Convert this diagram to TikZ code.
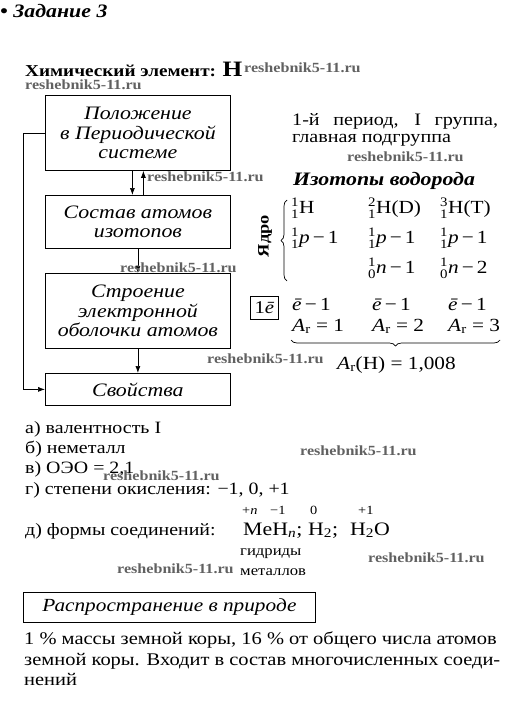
\documentclass[tikz,border=0pt]{standalone}
\usepackage{amsmath}
\usepackage{fontspec}
\setmainfont{Liberation Serif}[FakeStretch=1.15]
\usetikzlibrary{decorations.pathreplacing,arrows.meta}
\newcommand\iso[2]{\ensuremath{{}^{\text{#1}}_{\text{#2}}}}
\newcommand\Ar{\textit{A}\ensuremath{_{\text{r}}}}
\newcommand\mn{\,−\,}
\begin{document}
\begin{tikzpicture}[x=1pt,y=-1pt,
  box/.style={draw, line width=0.8pt, minimum width=185pt, inner sep=0pt, anchor=north west,
    font=\fontsize{19}{19.5}\selectfont\itshape, align=center},
  wm/.style={font=\fontsize{14}{14}\selectfont\bfseries, text=black!62, anchor=base west, inner sep=0pt},
  txt/.style={anchor=base west, inner sep=0pt, font=\fontsize{17.3}{20}\selectfont},
  big/.style={txt, font=\fontsize{18.5}{20}\selectfont},
  para/.style={txt, font=\fontsize{17.8}{20}\selectfont},
  arr/.style={-{Latex[length=7pt,width=5pt]}, line width=0.7pt}
]
\useasboundingbox (0,0) rectangle (505,728);
% title
\node[txt, font=\fontsize{19}{22}\selectfont\bfseries\itshape] (title) at (0,17) {• Задание 3};
\node[txt, font=\fontsize{16.7}{18}\selectfont\bfseries] (head) at (25,76) {Химический элемент: {\fontsize{22}{22}\selectfont H}};
% flow boxes
\node[box, minimum height=75pt] (b1) at (45,95) {Положение\\в Периодической\\системе};
\node[box, minimum height=53pt] (b2) at (45,195) {Состав атомов\\изотопов};
\node[box, minimum height=75pt] (b3) at (45,273) {Строение\\электронной\\оболочки атомов};
\node[box, minimum height=32pt] (b4) at (45,373) {Свойства};
\draw[arr] ([xshift=-5.5pt]b1.south) -- ([xshift=-5.5pt]b2.north);
\draw[arr] ([xshift=5.5pt]b2.north) -- ([xshift=5.5pt]b1.south);
\draw[arr] (b2.south) -- (b3.north);
\draw[arr] (b3.south) -- (b4.north);
\draw[arr] (b1.west) -- ++(-22,0) |- (b4.west);
% right side
\node[txt, font=\fontsize{17.5}{20}\selectfont] (per1) at (292,125) {\makebox[206pt][s]{1-й период, I группа,}};
\node[txt, font=\fontsize{17.5}{20}\selectfont] (per2) at (292,142) {главная подгруппа};
\node[txt, font=\fontsize{19}{20}\selectfont\bfseries\itshape] (isot) at (293,185) {Изотопы водорода};
\node[rotate=90, inner sep=0pt, font=\fontsize{16}{18}\selectfont\bfseries] (yadro) at (265,236) {Ядро};
\coordinate (brb) at (287,281);
\coordinate (brt) at (287,200);
\draw[decorate, decoration={brace, amplitude=6pt}, line width=0.7pt] (brb) -- (brt);
\node[big] (r1a) at (291,213) {\iso{1}{1}H};
\node[big] (r1b) at (368,213) {\iso{2}{1}H(D)};
\node[big] (r1c) at (440,213) {\iso{3}{1}H(T)};
\node[big] (r2a) at (291,243) {\iso{1}{1}\textit{p}\mn 1};
\node[big] (r2b) at (368,243) {\iso{1}{1}\textit{p}\mn 1};
\node[big] (r2c) at (440,243) {\iso{1}{1}\textit{p}\mn 1};
\node[big] (r3b) at (368,273) {\iso{1}{0}\textit{n}\mn 1};
\node[big] (r3c) at (440,273) {\iso{1}{0}\textit{n}\mn 2};
\node[draw, line width=0.8pt, minimum width=28pt, minimum height=23pt, inner sep=0pt, anchor=north west,
  font=\fontsize{18}{20}\selectfont] (el) at (250,296) {1\textit{ē}};
\node[big] (r4a) at (292,310) {\textit{ē}\mn 1};
\node[big] (r4b) at (372,310) {\textit{ē}\mn 1};
\node[big] (r4c) at (448,310) {\textit{ē}\mn 1};
\node[big] (r5a) at (292,331) {\Ar{} = 1};
\node[big] (r5b) at (372,331) {\Ar{} = 2};
\node[big] (r5c) at (448,331) {\Ar{} = 3};
\coordinate (ubl) at (291,340);
\coordinate (ubr) at (500,340);
\draw[decorate, decoration={brace, mirror, amplitude=6pt}, line width=0.7pt] (ubl) -- (ubr);
\node[big] (arh) at (337,369) {\Ar(H) = 1,008};
% properties
\node[txt] (pa) at (25,433) {а) валентность I};
\node[txt] (pb) at (25,453) {б) неметалл};
\node[txt] (pc) at (25,473) {в) ОЭО = 2,1};
\node[txt] (pd) at (25,494) {г) степени окисления: −1, 0, +1};
\node[txt] (pe) at (25,535) {д) формы соединений:};
\node[txt, font=\fontsize{19}{20}\selectfont] (f1) at (243,535) {MeH\ensuremath{_{\textit{n}}};};
\node[txt, font=\fontsize{19}{20}\selectfont] (f2) at (308,535) {H\ensuremath{_{\text{2}}};};
\node[txt, font=\fontsize{19}{20}\selectfont] (f3) at (350,535) {H\ensuremath{_{\text{2}}}O};
\node[txt, font=\fontsize{12.5}{12}\selectfont] (s1) at (242,514) {+\textit{n}};
\node[txt, font=\fontsize{12.5}{12}\selectfont] (s2) at (270,514) {−1};
\node[txt, font=\fontsize{12.5}{12}\selectfont] (s3) at (310,514) {0};
\node[txt, font=\fontsize{12.5}{12}\selectfont] (s4) at (358,514) {+1};
\node[txt, font=\fontsize{14.5}{16}\selectfont] (g1) at (240,555) {гидриды};
\node[txt, font=\fontsize{14.5}{16}\selectfont] (g2) at (240,575) {металлов};
% nature
\node[draw, line width=0.8pt, minimum width=292pt, minimum height=30pt, inner sep=0pt, anchor=north west,
  font=\fontsize{18.5}{20}\selectfont\itshape] (nat) at (23,592) {Распространение в природе};
\node[para] (l1) at (24,644) {1 \% массы земной коры, 16 \% от общего числа атомов};
\node[para] (l2) at (24,665) {земной коры. Входит в состав многочисленных соеди-};
\node[para] (l3) at (24,685) {нений};
% watermarks
\node[wm] (w1) at (244,72) {reshebnik5-11.ru};
\node[wm] (w2) at (25,89) {reshebnik5-11.ru};
\node[wm] (w3) at (147,181) {reshebnik5-11.ru};
\node[wm] (w4) at (347,161) {reshebnik5-11.ru};
\node[wm] (w5) at (120,272) {reshebnik5-11.ru};
\node[wm] (w6) at (207,363) {reshebnik5-11.ru};
\node[wm] (w7) at (300,455) {reshebnik5-11.ru};
\node[wm] (w8) at (103,480) {reshebnik5-11.ru};
\node[wm] (w9) at (368,562) {reshebnik5-11.ru};
\node[wm] (w10) at (117,573) {reshebnik5-11.ru};
\end{tikzpicture}
\end{document}
